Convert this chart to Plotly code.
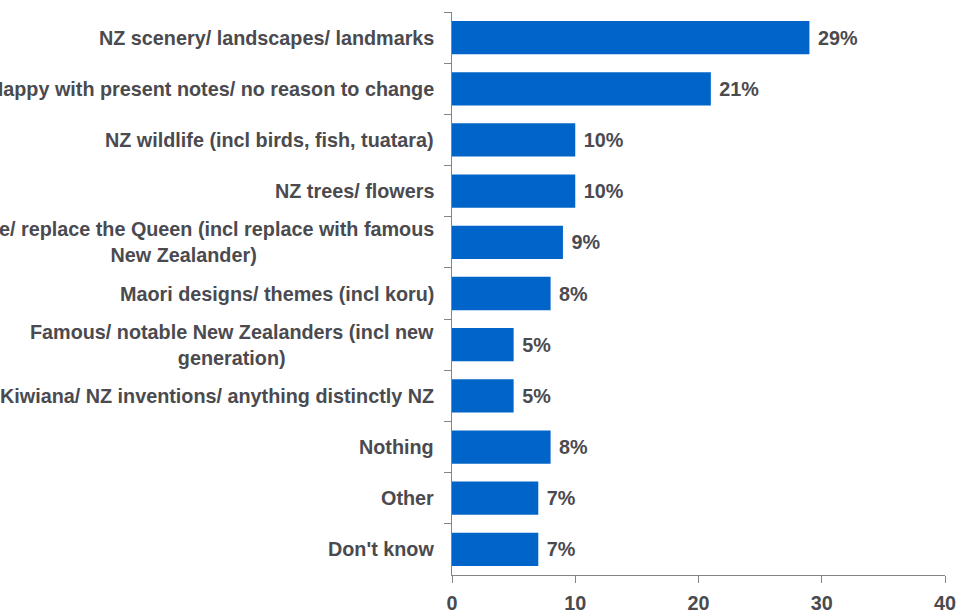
import plotly.graph_objects as go

# Survey responses: what should appear on new banknotes
categories = [
    "NZ scenery/ landscapes/ landmarks",
    "Happy with present notes/ no reason to change",
    "NZ wildlife (incl birds, fish, tuatara)",
    "NZ trees/ flowers",
    "Remove/ replace the Queen (incl replace with famous<br>New Zealander)",
    "Maori designs/ themes (incl koru)",
    "Famous/ notable New Zealanders (incl new<br>generation)",
    "Kiwiana/ NZ inventions/ anything distinctly NZ",
    "Nothing",
    "Other",
    "Don't know",
]
percent = [29, 21, 10, 10, 9, 8, 5, 5, 8, 7, 7]
x_ticks = [0, 10, 20, 30, 40]

BAR = "#0064C8"
TEXT = "#4a4a4f"
AXIS = "#858585"
FONT = "Liberation Sans, Arial, sans-serif"
SIZE = 19.8

fig = go.Figure(
    go.Bar(
        y=categories,
        x=percent,
        orientation="h",
        marker=dict(color=BAR, line=dict(width=0)),
        texttemplate="<b>\u00a0%{x}%</b>",
        textposition="outside",
        textfont=dict(family=FONT, size=SIZE, color=TEXT),
        cliponaxis=False,
        hoverinfo="skip",
    )
)

# Category labels: right-aligned block, lines centred within it
for cat in categories:
    fig.add_annotation(
        x=0, xref="paper", y=cat, yref="y",
        text="<b>" + cat + "</b>",
        showarrow=False,
        xanchor="right", yanchor="middle",
        align="center",
        xshift=-16,
        font=dict(family=FONT, size=SIZE, color=TEXT),
    )

fig.update_layout(
    width=959, height=611,
    margin=dict(l=452, r=14, t=12, b=36),
    paper_bgcolor="white", plot_bgcolor="white",
    bargap=0.35,
    showlegend=False,
)
fig.update_yaxes(
    type="category",
    autorange="reversed",
    showticklabels=False,
    tickson="boundaries",
    ticks="outside", ticklen=7, tickwidth=1.3, tickcolor=AXIS,
    showline=True, linecolor=AXIS, linewidth=1.3,
    showgrid=False, zeroline=False,
    automargin=False,
)
fig.update_xaxes(
    range=[0, 40],
    tickvals=x_ticks,
    ticktext=["<b>%d</b>" % v for v in x_ticks],
    ticks="outside", ticklen=7, tickwidth=1.3, tickcolor=AXIS,
    showline=True, linecolor=AXIS, linewidth=1.3,
    showgrid=False, zeroline=False,
    tickfont=dict(family=FONT, size=SIZE, color=TEXT),
    ticklabelstandoff=3,
    automargin=False,
)

fig.write_html("out.html")
